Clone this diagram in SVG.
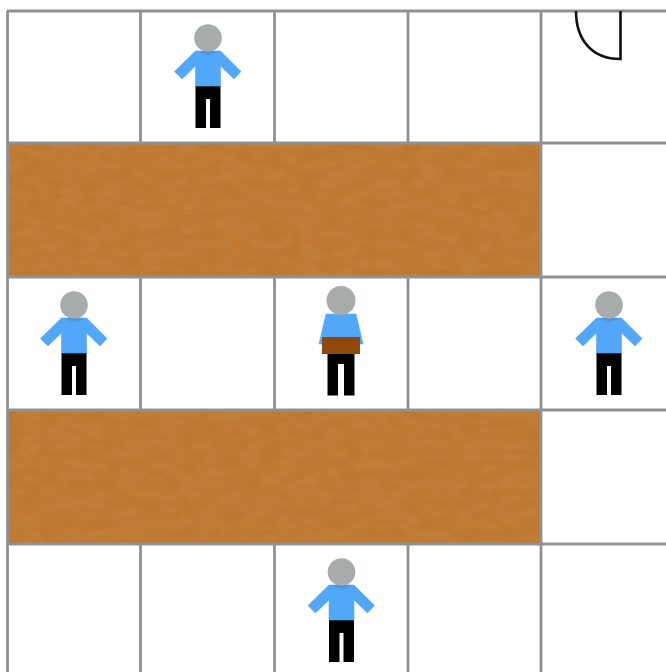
<svg xmlns="http://www.w3.org/2000/svg" width="666" height="672" viewBox="0 0 666 672">
<style>
.grid{stroke:#8f9193;stroke-width:2.8;fill:none}
.shirt{fill:#52a7f8;stroke:#52a7f8;stroke-width:.6}
.legs{fill:#000}
.head{fill:#a7abab}
.shade{fill:#3a6f9f;opacity:.55}
.tex{fill:#bf7832;filter:url(#wood)}
.box{fill:#8f4a0a}
.door{fill:none;stroke:#111;stroke-width:2.6}
</style>
<defs>
<filter id="wood" x="0" y="0" width="100%" height="100%">
<feTurbulence type="fractalNoise" baseFrequency="0.05 0.1" numOctaves="3" seed="4" result="n"/>
<feColorMatrix in="n" type="matrix" values="0 0 0 0 0.6  0 0 0 0 0.34  0 0 0 0 0.1  0.22 0.22 0 0 -0.16" result="t"/>
<feComposite in="t" in2="SourceGraphic" operator="in" result="c"/>
<feMerge><feMergeNode in="SourceGraphic"/><feMergeNode in="c"/></feMerge>
</filter>
<filter id="soft" x="-20%" y="-20%" width="140%" height="140%"><feGaussianBlur stdDeviation="0.7"/></filter>
<filter id="blur" x="-30%" y="-30%" width="160%" height="160%"><feGaussianBlur stdDeviation="1.5"/></filter>
<g id="person">
<path class="legs" d="M-12.500 48H12.500V90H2V61H-2V90H-12.500Z"/>
<path class="shirt" d="M-12.500 13H12.500L33 33.500L26 41L12.500 28V48H-12.500V28L-26 41L-33.500 33.500Z"/>
<clipPath id="torso"><rect x="-13" y="13" width="26" height="10"/></clipPath>
<g clip-path="url(#torso)"><circle class="shade" cx="0" cy="2" r="13.500" filter="url(#blur)"/></g>
<circle class="head" cx="0" cy="0" r="13.800" filter="url(#soft)"/>
</g>
</defs>
<rect width="666" height="672" fill="#fff"/>
<g id="tables">
<rect id="table-top" class="tex" x="7" y="143" width="534" height="134"/>
<rect id="table-bottom" class="tex" x="7" y="410" width="534" height="134"/>
</g>
<g id="grid" class="grid">
<path d="M7.500 11V672M140.500 11V143M140.500 277V410M140.500 544V672M274.500 11V143M274.500 277V410M274.500 544V672M408 11V143M408 277V410M408 544V672M541 11V672"/>
<path d="M7 11H666M7 143H666M7 277H666M7 410H666M7 544H666"/>
</g>
<g id="door"><path class="door" d="M576 11C576 40 592 59 620.500 59V11"/></g>
<g id="person-1"><use href="#person" x="208" y="38"/></g>
<g id="person-2"><use href="#person" x="74" y="305"/></g>
<g id="person-4"><use href="#person" x="609" y="305"/></g>
<g id="person-5"><use href="#person" x="341.500" y="572"/></g>
<g id="person-3">
<path class="legs" d="M327.500 354H354.500V395.500H344V364H338V395.500H327.500Z"/>
<path class="shirt" d="M326 314H356L363 344H319Z"/>
<rect class="box" x="322" y="337" width="38" height="17"/>
<circle class="head" cx="341" cy="300.500" r="14.500" filter="url(#soft)"/>
</g>
</svg>
